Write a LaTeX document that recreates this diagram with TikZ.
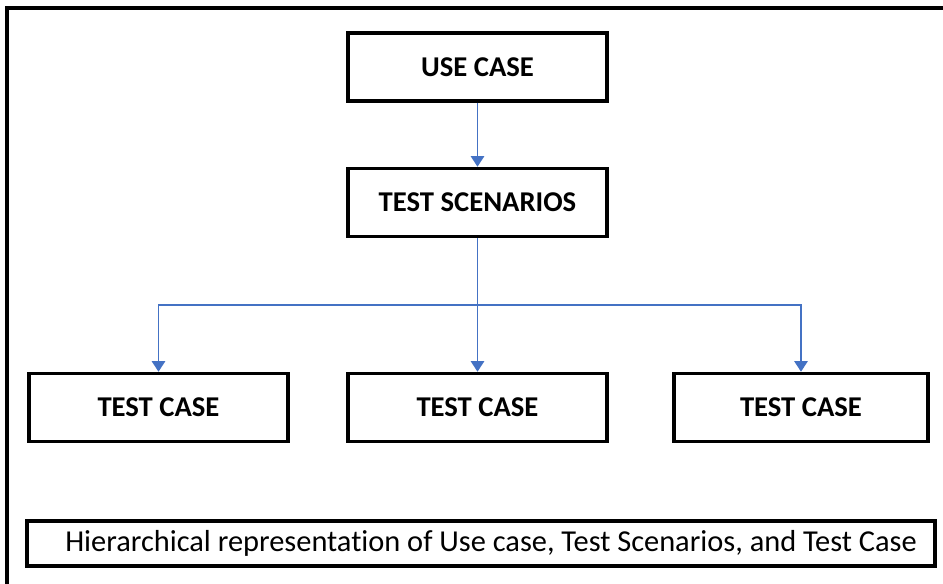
\documentclass[tikz,border=0pt]{standalone}
\usepackage{fontspec}
\setmainfont{Carlito}[Ligatures=NoCommon]
\usetikzlibrary{arrows.meta}
\definecolor{linkblue}{RGB}{68,114,196}
\begin{document}
\begin{tikzpicture}[x=0.75pt,y=-0.75pt,
  stepbox/.style={draw,line width=2.6pt,minimum width=194pt,minimum height=51pt,
    font=\fontsize{21.5}{24}\selectfont\bfseries},
  link/.style={draw=linkblue,line width=1.4pt,-{Triangle[width=10pt,length=8pt]},linkblue}]
  \useasboundingbox (0,0) rectangle (943,584);
  \clip (0,0) rectangle (943,584);
  % outer frame runs off the right and bottom edges
  \draw[line width=2.4pt] (7,600)--(7,8)--(960,8);
  \node[stepbox] (use) at (477.5,67) {USE CASE};
  \node[stepbox] (scen) at (477.5,202.5) {TEST SCENARIOS};
  \node[stepbox] (case1) at (158.5,407.5) {TEST CASE};
  \node[stepbox] (case2) at (477.5,407.5) {TEST CASE};
  \node[stepbox,minimum width=190.5pt] (case3) at (801,407.5) {TEST CASE};
  \coordinate (bus) at (477.5,305);
  \draw[link] (use) -- (scen);
  \draw[link] (scen) -- (case2);
  \draw[link] (bus) -| (case1.north);
  \draw[link] (bus) -| (case3.north);
  % caption strip
  \node[draw,line width=2.6pt,minimum width=681pt,minimum height=34pt] (cap) at (481,543.5) {};
  \node[anchor=west,inner sep=0pt,font=\fontsize{22.8}{26}\selectfont] (captext) at (65,543.5)
    {Hierarchical representation of Use case, Test Scenarios, and Test Case};
\end{tikzpicture}
\end{document}
